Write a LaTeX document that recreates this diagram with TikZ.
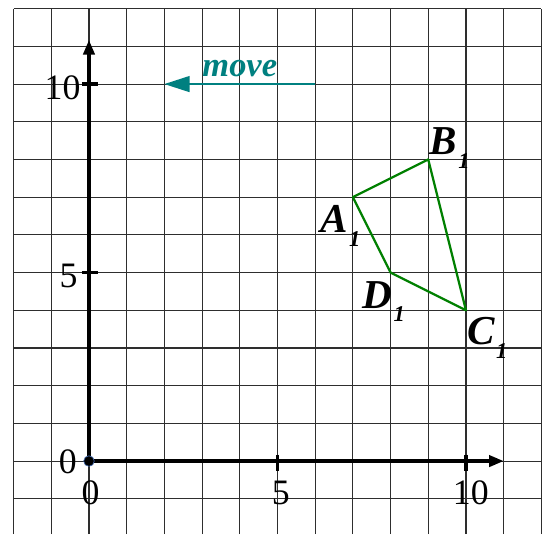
\documentclass[tikz,border=0pt]{standalone}
\usepackage{fontspec}
\setmainfont{Liberation Serif}
\usetikzlibrary{arrows.meta}
\definecolor{movecol}{RGB}{0,128,128}
\definecolor{quadcol}{RGB}{0,128,0}
\definecolor{dotblue}{RGB}{60,100,170}
\newcommand\ptlabel[1]{\fontsize{31}{31}\selectfont\bfseries\itshape #1\kern1pt\raisebox{-10.5pt}{\fontsize{17}{17}\selectfont 1}}
\tikzset{
  gridline/.style={black!82, line width=0.85pt},
  axisline/.style={black, line width=2.4pt, -{Triangle[length=11pt,width=8.5pt]}},
  tickline/.style={black, line width=2.4pt},
  numlabel/.style={inner sep=0pt, font=\fontsize{27}{27}\selectfont},
  ptlab/.style={inner sep=0pt, anchor=base west},
  quad/.style={quadcol, line width=1.7pt, line join=round},
  movearrow/.style={movecol, line width=1.1pt, -{Triangle[length=19pt,width=12pt]}},
}
\begin{document}
\begin{tikzpicture}
\fill[white] (-2.36,-1.936) rectangle (12.07,12.23);
\useasboundingbox (-2.36,-1.936) rectangle (12.07,12.23);
\draw[gridline] (-2,-1.936) grid (12,12);
% axes
\coordinate (O) at (0,0);
\coordinate (xend) at (11,0);
\coordinate (yend) at (0,11.17);
\draw[axisline] (O) -- (xend);
\draw[axisline] (O) -- (yend);
\draw[tickline] (5,0.17) -- (5,-0.27);
\draw[tickline] (10,0.17) -- (10,-0.27);
\draw[tickline] (-0.19,5) -- (0.24,5);
\draw[tickline] (-0.19,10) -- (0.24,10);
\node[circle, fill=black, draw=dotblue, line width=0.5pt, minimum size=0.28cm, inner sep=0pt] (origin) at (O) {};
% number labels
\node[numlabel, anchor=base east] (y10) at (-0.22,9.6) {10};
\node[numlabel, anchor=base east] (y5) at (-0.30,4.6) {5};
\node[numlabel, anchor=base east] (y0) at (-0.32,-0.32) {0};
\node[numlabel, anchor=base] (x0) at (0.04,-1.14) {0};
\node[numlabel, anchor=base] (x5) at (5.09,-1.14) {5};
\node[numlabel, anchor=base] (x10) at (10.13,-1.14) {10};
% quadrilateral
\coordinate (A) at (7,7);
\coordinate (B) at (9,8);
\coordinate (C) at (10,4);
\coordinate (D) at (8,5);
\draw[quad] (A) -- (B) -- (C) -- (D) -- cycle;
\node[ptlab] (lA) at (6.13,6.07) {\ptlabel{A}};
\node[ptlab] (lB) at (9.03,8.12) {\ptlabel{B}};
\node[ptlab] (lC) at (10.03,3.08) {\ptlabel{C}};
\node[ptlab] (lD) at (7.25,4.06) {\ptlabel{D}};
% move arrow
\coordinate (m1) at (6,10);
\coordinate (m2) at (2,10);
\draw[movearrow] (m1) -- (m2);
\node[inner sep=0pt, anchor=base, text=movecol, font=\fontsize{26}{26}\selectfont\bfseries\itshape] (movelabel) at (4,10.19) {move};
\end{tikzpicture}
\end{document}
